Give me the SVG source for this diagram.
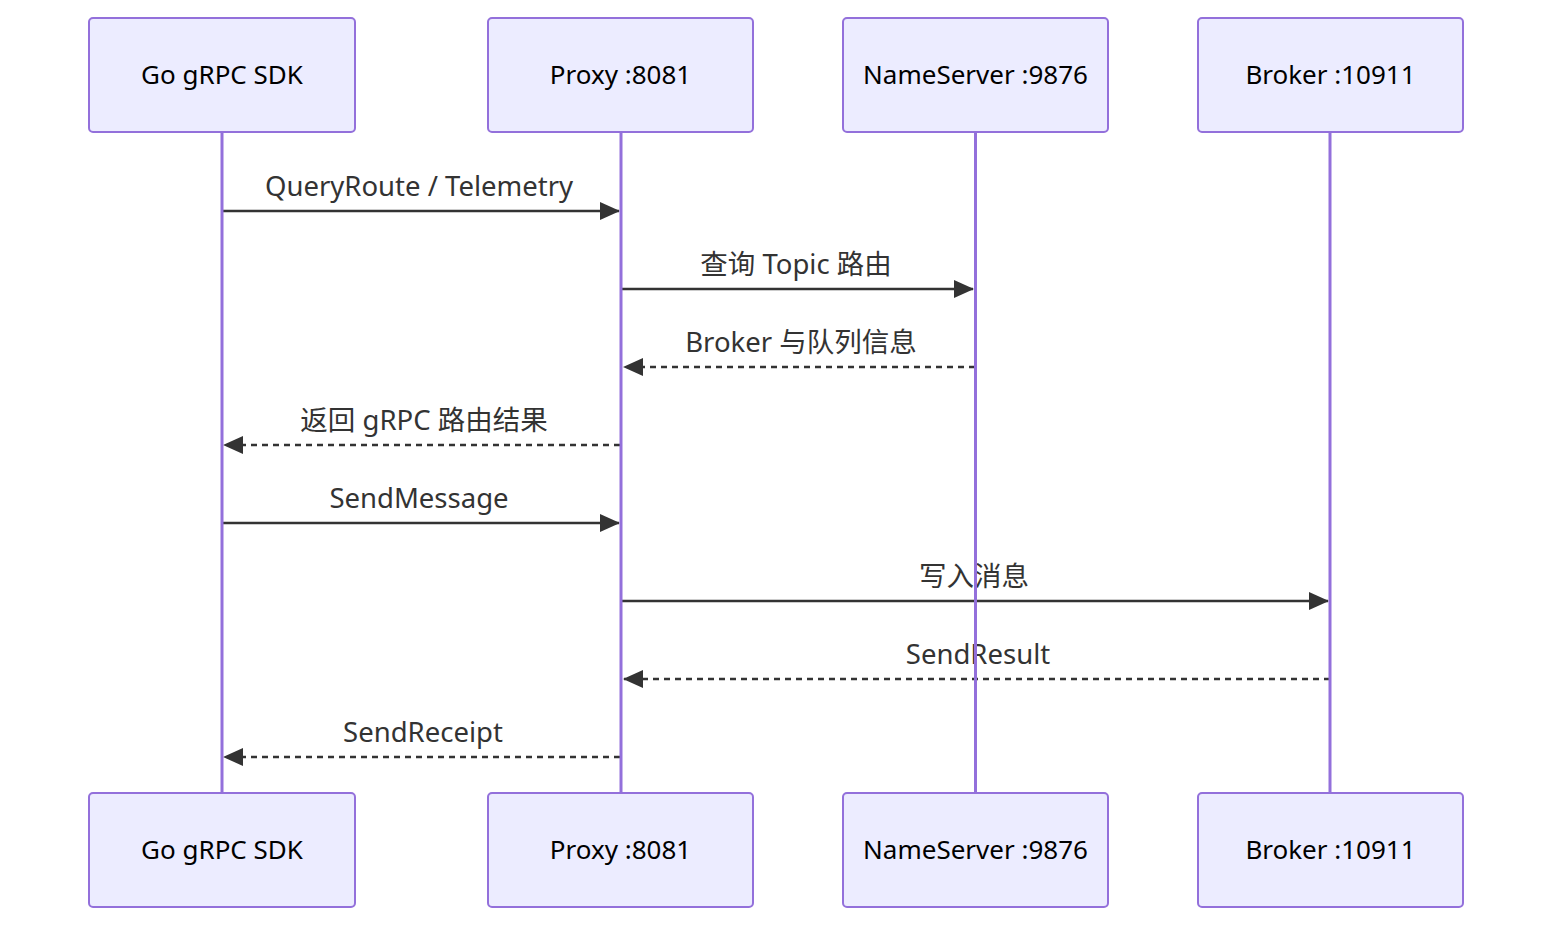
<svg xmlns="http://www.w3.org/2000/svg" width="1568" height="938" viewBox="0 0 1568 938">
<style>
.actor{fill:#ECECFF;stroke:#9370DB;stroke-width:2}
.atext{font-family:"Noto Sans","Open Sans","Liberation Sans",sans-serif;font-size:26px;fill:#000;text-anchor:middle;dominant-baseline:central}
.life{stroke:#9370DB;stroke-width:3}
.msg{stroke:#333;stroke-width:2.5;fill:none}
.dash{stroke-dasharray:6,5}
.mtext{font-family:"Noto Sans","Open Sans","Noto Sans CJK SC",sans-serif;font-size:27.5px;fill:#333;text-anchor:middle;dominant-baseline:central}
</style>
<defs>
<marker id="ah" markerUnits="userSpaceOnUse" markerWidth="20" markerHeight="18" refX="19" refY="9" orient="auto">
<path d="M0,0 L20,9 L0,18 z" fill="#333"/>
</marker>
</defs>
<rect width="1568" height="938" fill="#fff"/>
<g id="msgs">
<line class="msg" x1="222" y1="211" x2="619" y2="211" marker-end="url(#ah)"/>
<text class="mtext" x="419" y="185">QueryRoute / Telemetry</text>
<line class="msg" x1="622" y1="289" x2="973" y2="289" marker-end="url(#ah)"/>
<text class="mtext" x="796" y="263">查询 Topic 路由</text>
<line class="msg dash" x1="975" y1="367" x2="624" y2="367" marker-end="url(#ah)"/>
<text class="mtext" x="801" y="341">Broker 与队列信息</text>
<line class="msg dash" x1="620" y1="445" x2="224" y2="445" marker-end="url(#ah)"/>
<text class="mtext" x="424" y="419">返回 gRPC 路由结果</text>
<line class="msg" x1="222" y1="523" x2="619" y2="523" marker-end="url(#ah)"/>
<text class="mtext" x="419" y="497">SendMessage</text>
<line class="msg" x1="622" y1="601" x2="1328" y2="601" marker-end="url(#ah)"/>
<text class="mtext" x="974" y="575">写入消息</text>
<line class="msg dash" x1="1330" y1="679" x2="624" y2="679" marker-end="url(#ah)"/>
<text class="mtext" x="978" y="653">SendResult</text>
<line class="msg dash" x1="620" y1="757" x2="224" y2="757" marker-end="url(#ah)"/>
<text class="mtext" x="423" y="731">SendReceipt</text>
</g>
<g id="lifelines">
<line class="life" x1="222" y1="132" x2="222" y2="793"/>
<line class="life" x1="621" y1="132" x2="621" y2="793"/>
<line class="life" x1="975.5" y1="132" x2="975.5" y2="793"/>
<line class="life" x1="1330" y1="132" x2="1330" y2="793"/>
</g>
<g id="sdk-top"><rect class="actor" x="89" y="18" width="266" height="114" rx="4"/><text class="atext" x="222" y="74">Go gRPC SDK</text></g>
<g id="proxy-top"><rect class="actor" x="488" y="18" width="265" height="114" rx="4"/><text class="atext" x="620.5" y="74">Proxy :8081</text></g>
<g id="ns-top"><rect class="actor" x="843" y="18" width="265" height="114" rx="4"/><text class="atext" x="975.5" y="74">NameServer :9876</text></g>
<g id="broker-top"><rect class="actor" x="1198" y="18" width="265" height="114" rx="4"/><text class="atext" x="1330.5" y="74">Broker :10911</text></g>
<g id="sdk-bottom"><rect class="actor" x="89" y="793" width="266" height="114" rx="4"/><text class="atext" x="222" y="849">Go gRPC SDK</text></g>
<g id="proxy-bottom"><rect class="actor" x="488" y="793" width="265" height="114" rx="4"/><text class="atext" x="620.5" y="849">Proxy :8081</text></g>
<g id="ns-bottom"><rect class="actor" x="843" y="793" width="265" height="114" rx="4"/><text class="atext" x="975.5" y="849">NameServer :9876</text></g>
<g id="broker-bottom"><rect class="actor" x="1198" y="793" width="265" height="114" rx="4"/><text class="atext" x="1330.5" y="849">Broker :10911</text></g>
</svg>
